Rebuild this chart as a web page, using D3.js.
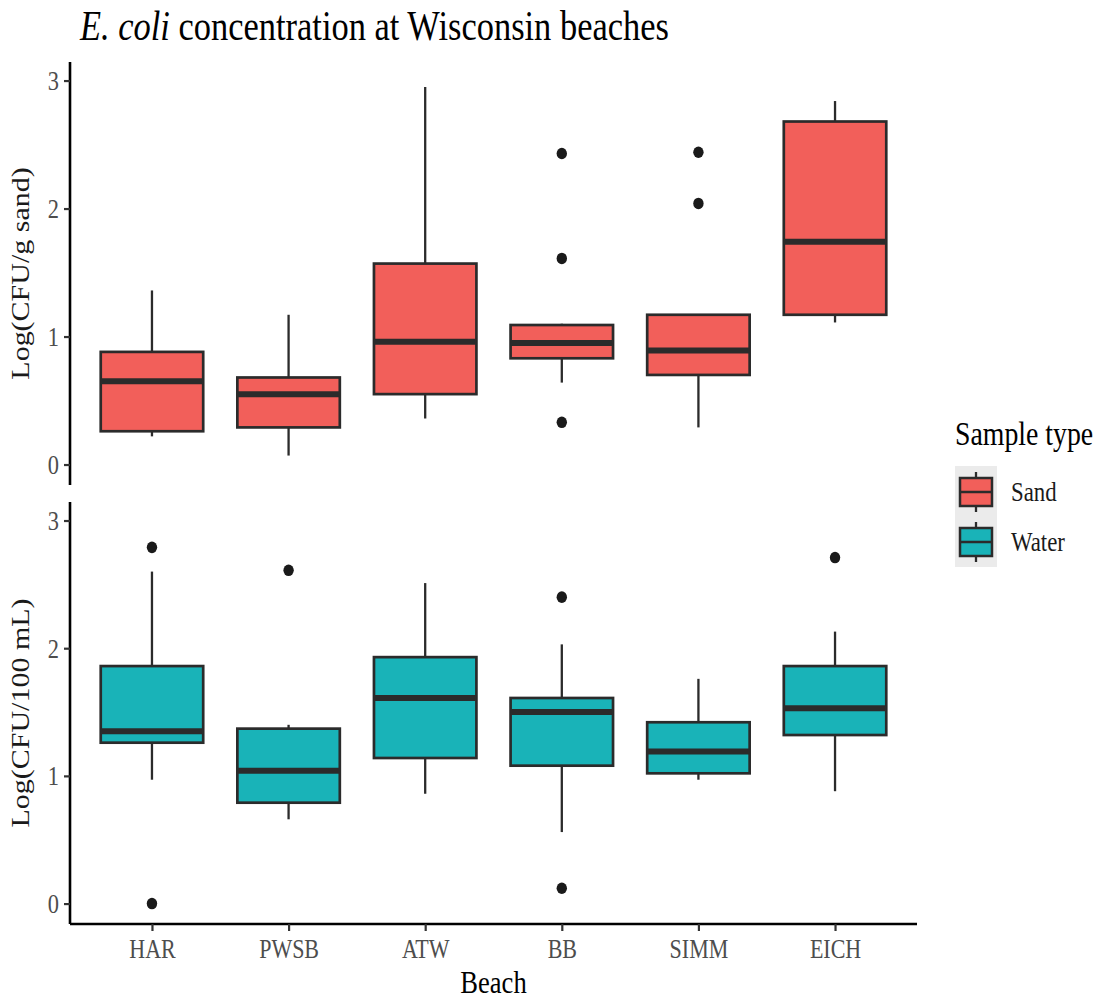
<!DOCTYPE html>
<html>
<head>
<meta charset="utf-8">
<script src="https://cdn.jsdelivr.net/npm/d3@7"></script>
<style>
  body { margin: 0; background: #fff; }
  svg { display: block; font-family: "Liberation Serif", "Times New Roman", serif; }
</style>
</head>
<body>
<div id="chart"></div>
<script>
const beaches = ["HAR", "PWSB", "ATW", "BB", "SIMM", "EICH"];

// Sand, Log(CFU/g sand)
const sandLow  = [0.22, 0.07, 0.36, 0.64, 0.29, 1.11];
const sandQ1   = [0.26, 0.29, 0.55, 0.83, 0.70, 1.17];
const sandMed  = [0.65, 0.55, 0.96, 0.95, 0.89, 1.74];
const sandQ3   = [0.88, 0.68, 1.57, 1.09, 1.17, 2.68];
const sandHigh = [1.36, 1.17, 2.95, 1.10, 1.17, 2.84];
const sandOut  = [[], [], [], [2.43, 1.61, 0.33], [2.44, 2.04], []];

// Water, Log(CFU/100 mL)
const waterLow  = [0.97, 0.66, 0.86, 0.56, 0.97, 0.88];
const waterQ1   = [1.26, 0.79, 1.14, 1.08, 1.02, 1.32];
const waterMed  = [1.35, 1.04, 1.61, 1.50, 1.19, 1.53];
const waterQ3   = [1.86, 1.37, 1.93, 1.61, 1.42, 1.86];
const waterHigh = [2.60, 1.40, 2.51, 2.03, 1.76, 2.13];
const waterOut  = [[2.79, 0.0], [2.61], [], [2.40, 0.12], [], [2.71]];

const yTicks = [0, 1, 2, 3];
const sampleTypes = ["Sand", "Water"];
const colors = {Sand: "#f25f5a", Water: "#19b3b8"};

const width = 1106, height = 1001;
const SX = 0.83; // the picture is squeezed sideways a bit
const ink = "#2b2b2b";

function stats(low, q1, med, q3, high, out) {
    return beaches.map((b, i) => ({beach: b, low: low[i], q1: q1[i], med: med[i], q3: q3[i], high: high[i], out: out[i]}));
}

const panels = [
    {type: "Sand", label: "Log(CFU/g sand)", top: 62, bottom: 485,
        data: stats(sandLow, sandQ1, sandMed, sandQ3, sandHigh, sandOut)},
    {type: "Water", label: "Log(CFU/100 mL)", top: 502, bottom: 924,
        data: stats(waterLow, waterQ1, waterMed, waterQ3, waterHigh, waterOut)}
];

const svg = d3.select("#chart").append("svg")
    .attr("width", width)
    .attr("height", height)
    .attr("viewBox", [0, 0, width, height]);

const x = d3.scalePoint()
    .domain(beaches)
    .range([70, 917])
    .padding(0.6);
const boxW = x.step() * 0.75;

function squeezedText(g, px, py, str, size) {
    return g.append("text")
        .attr("transform", `translate(${px},${py}) scale(${SX},1)`)
        .attr("font-size", size)
        .text(str);
}

for (const p of panels) {
    const y = d3.scaleLinear().domain([-0.16, 3.145]).range([p.bottom, p.top]);
    const g = svg.append("g");

    // y axis
    g.append("g")
        .attr("transform", "translate(70,0)")
        .call(d3.axisLeft(y).tickValues(yTicks).tickSize(6).tickPadding(6).tickFormat(d3.format("d")))
        .call(a => a.select(".domain").attr("stroke", "#000").attr("stroke-width", 2.6).attr("d", `M0,${p.top}V${p.bottom}`))
        .call(a => a.selectAll(".tick line").attr("stroke", "#333").attr("stroke-width", 2.2))
        .call(a => a.selectAll(".tick text")
            .attr("x", null).attr("dy", null)
            .attr("transform", `translate(-11,9) scale(${SX},1)`)
            .attr("font-size", 27)
            .attr("font-family", "Liberation Serif, serif")
            .attr("fill", "#4d4d4d"));

    // y title
    g.append("text")
        .attr("transform", `translate(29,${(p.top + p.bottom) / 2}) rotate(-90) scale(1,${SX})`)
        .attr("text-anchor", "middle")
        .attr("font-size", 30)
        .attr("fill", "#1a1a1a")
        .text(p.label);

    const box = g.append("g")
        .selectAll("g")
        .data(p.data)
        .join("g")
        .attr("transform", d => `translate(${x(d.beach)},0)`);

    box.append("line")
        .attr("y1", d => y(d.low)).attr("y2", d => y(d.high))
        .attr("stroke", ink).attr("stroke-width", 2.3);

    box.append("rect")
        .attr("x", -boxW / 2)
        .attr("width", boxW)
        .attr("y", d => y(d.q3))
        .attr("height", d => y(d.q1) - y(d.q3))
        .attr("fill", colors[p.type])
        .attr("stroke", ink)
        .attr("stroke-width", 2.7);

    box.append("line")
        .attr("x1", -boxW / 2).attr("x2", boxW / 2)
        .attr("y1", d => y(d.med)).attr("y2", d => y(d.med))
        .attr("stroke", ink).attr("stroke-width", 6);

    box.selectAll("ellipse")
        .data(d => d.out)
        .join("ellipse")
        .attr("cy", v => y(v))
        .attr("rx", 5.2).attr("ry", 5.8)
        .attr("fill", "#1a1a1a");

    if (p.type === "Water") {
        g.append("g")
            .attr("transform", `translate(0,${p.bottom})`)
            .call(d3.axisBottom(x).tickSize(7).tickPadding(8))
            .call(a => a.select(".domain").attr("stroke", "#000").attr("stroke-width", 2.6).attr("d", "M70,0H917"))
            .call(a => a.selectAll(".tick line").attr("stroke", "#333").attr("stroke-width", 2.2))
            .call(a => a.selectAll(".tick text")
                .attr("y", null).attr("dy", null)
                .attr("transform", `translate(0,34) scale(${SX},1)`)
                .attr("font-size", 26.5)
                .attr("font-family", "Liberation Serif, serif")
                .attr("fill", "#4d4d4d"));
    }
}

// x title
squeezedText(svg, 493.5, 993, "Beach", 32).attr("text-anchor", "middle").attr("fill", "#000");

// title
const title = svg.append("text")
    .attr("transform", `translate(80,40) scale(${SX},1)`)
    .attr("font-size", 41.5)
    .attr("fill", "#000");
title.append("tspan").attr("font-style", "italic").text("E. coli");
title.append("tspan").text(" concentration at Wisconsin beaches");

// legend
const legend = svg.append("g");
squeezedText(legend, 955, 445, "Sample type", 33.5).attr("fill", "#000");
legend.append("rect")
    .attr("x", 955).attr("y", 466).attr("width", 42).attr("height", 101)
    .attr("fill", "#ebebeb");

const key = legend.selectAll("g.key")
    .data(sampleTypes)
    .join("g")
    .attr("class", "key")
    .attr("transform", (d, i) => `translate(976,${492 + i * 50})`);
key.append("line").attr("y1", -20).attr("y2", 20).attr("stroke", ink).attr("stroke-width", 2.3);
key.append("rect")
    .attr("x", -16).attr("y", -14).attr("width", 32).attr("height", 28)
    .attr("fill", d => colors[d]).attr("stroke", ink).attr("stroke-width", 2.5);
key.append("line").attr("x1", -16).attr("x2", 16).attr("stroke", ink).attr("stroke-width", 2.5);
key.each(function (d) {
    squeezedText(d3.select(this), 35, 9, d, 27.5).attr("fill", "#1a1a1a");
});
</script>
</body>
</html>
